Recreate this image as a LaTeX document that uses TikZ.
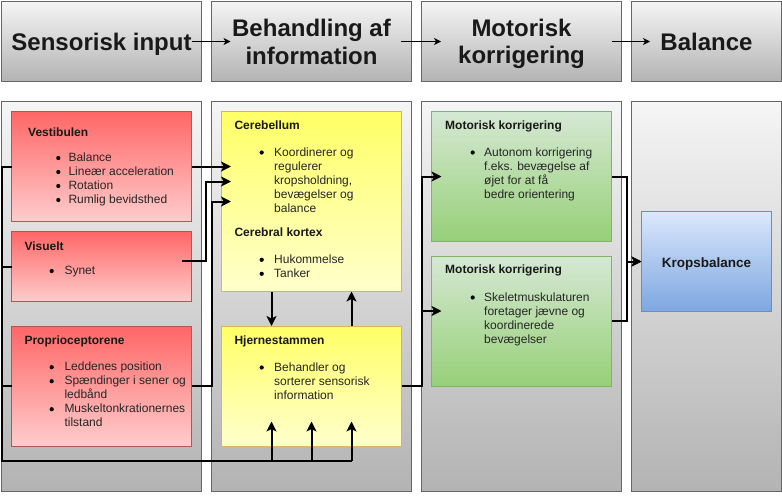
\documentclass[tikz,border=0pt]{standalone}
\usepackage{fontspec}
\setmainfont{Liberation Sans}
\usetikzlibrary{arrows.meta,calc}
\definecolor{cBorder}{HTML}{666666}
\definecolor{gTop}{HTML}{F5F5F5}
\definecolor{gBot}{HTML}{B3B3B3}
\definecolor{rTop}{HTML}{FF6666}
\definecolor{rBot}{HTML}{FFCCCC}
\definecolor{rLine}{HTML}{B85450}
\definecolor{yTop}{HTML}{FFFF66}
\definecolor{yBot}{HTML}{FFFFCC}
\definecolor{yLine}{HTML}{D6B656}
\definecolor{gnTop}{HTML}{D5E8D4}
\definecolor{gnBot}{HTML}{97D077}
\definecolor{gnLine}{HTML}{82B366}
\definecolor{bTop}{HTML}{DAE8FC}
\definecolor{bBot}{HTML}{7EA6E0}
\definecolor{bLine}{HTML}{6C8EBF}
\definecolor{txtItem}{HTML}{262626}
\newcommand\dotat[2]{\fill[black] (#1,#2) circle (2.1);}
\tikzset{
  panel/.style={draw=cBorder, line width=1pt, top color=gTop, bottom color=gBot, inner sep=0pt, outer sep=0pt},
  redbox/.style={draw=rLine, line width=1pt, top color=rTop, bottom color=rBot, inner sep=0pt, outer sep=0pt, minimum width=180pt},
  yelbox/.style={draw=yLine, line width=1pt, top color=yTop, bottom color=yBot, inner sep=0pt, outer sep=0pt, minimum width=180pt},
  grnbox/.style={draw=gnLine, line width=1pt, top color=gnTop, bottom color=gnBot, inner sep=0pt, outer sep=0pt, minimum width=180pt},
  blubox/.style={draw=bLine, line width=1pt, top color=bTop, bottom color=bBot, inner sep=0pt, outer sep=0pt},
  hdrtxt/.style={anchor=base, inner sep=0pt, font=\fontsize{24}{28}\selectfont\bfseries, text=black!90},
  titletxt/.style={anchor=base west, inner sep=0pt, font=\fontsize{12}{14}\selectfont\bfseries, text=black!90},
  itemtxt/.style={anchor=base west, inner sep=0pt, font=\fontsize{12}{14}\selectfont, text=txtItem},
  wire/.style={draw=black, line width=2pt},
  conn/.style={wire, -{Stealth[length=10pt,width=10pt,inset=2.5pt]}},
  harr/.style={draw=black, line width=1pt, -{Stealth[length=7pt,width=7pt,inset=2pt]}}
}
\begin{document}
\begin{tikzpicture}[x=1pt,y=-1pt]
\useasboundingbox (0,0) rectangle (782,501);
% header row
\node[panel, minimum width=200pt, minimum height=80pt] (h1) at (101.5,41.5) {};
\node[panel, minimum width=200pt, minimum height=80pt] (h2) at (311.5,41.5) {};
\node[panel, minimum width=200pt, minimum height=80pt] (h3) at (521.5,41.5) {};
\node[panel, minimum width=150pt, minimum height=80pt] (h4) at (706.5,41.5) {};
\node[hdrtxt] (t1) at (101.5,50.5) {Sensorisk input};
\node[hdrtxt] (t2a) at (311.5,36) {Behandling af};
\node[hdrtxt] (t2b) at (311.5,64) {information};
\node[hdrtxt] (t3a) at (521.5,36) {Motorisk};
\node[hdrtxt] (t3b) at (521.5,63.5) {korrigering};
\node[hdrtxt] (t4) at (706.5,50) {Balance};
\draw[harr] ($(h1.east)+(-10,0)$) -- ($(h2.west)+(19,0)$);
\draw[harr] ($(h2.east)+(-10.5,0)$) -- ($(h3.west)+(19.5,0)$);
\draw[harr] ($(h3.east)+(-10,0)$) -- ($(h4.west)+(18.5,0)$);
% columns
\node[panel, minimum width=200pt, minimum height=390pt] (c1) at (101.5,296.5) {};
\node[panel, minimum width=200pt, minimum height=390pt] (c2) at (311.5,296.5) {};
\node[panel, minimum width=200pt, minimum height=390pt] (c3) at (521.5,296.5) {};
\node[panel, minimum width=150pt, minimum height=390pt] (c4) at (706.5,296.5) {};
% boxes
\node[redbox, minimum height=110pt] (vest) at (101.5,166.5) {};
\node[redbox, minimum height=70pt] (vis) at (101.5,266.5) {};
\node[redbox, minimum height=120pt] (prop) at (101.5,386) {};
\node[yelbox, minimum height=180pt] (cereb) at (311.5,201.5) {};
\node[yelbox, minimum height=120pt] (hjern) at (311.5,386) {};
\node[grnbox, minimum height=130pt] (mot1) at (521.5,176.5) {};
\node[grnbox, minimum height=130pt] (mot2) at (521.5,321) {};
\node[blubox, minimum width=130pt, minimum height=100pt] (kb) at (706.5,261.5) {};
% texts: Vestibulen
\node[titletxt] (v0) at (28,136.5) {Vestibulen};
\dotat{58.3}{158}\node[itemtxt] (v1) at (68.3,161.5) {Balance};
\dotat{58.3}{172}\node[itemtxt] (v2) at (68.3,175.5) {Lineær acceleration};
\dotat{58.3}{186}\node[itemtxt] (v3) at (68.3,189.5) {Rotation};
\dotat{58.3}{200}\node[itemtxt] (v4) at (68.3,203.5) {Rumlig bevidsthed};
% Visuelt
\node[titletxt] (s0) at (24.3,250) {Visuelt};
\dotat{51.7}{271}\node[itemtxt] (s1) at (64.3,274.5) {Synet};
% Proprioceptorene
\node[titletxt] (p0) at (24.3,344) {Proprioceptorene};
\dotat{51.7}{367.2}\node[itemtxt] (p1) at (64.3,370.7) {Leddenes position};
\dotat{51.7}{381.2}\node[itemtxt] (p2) at (64.3,384.7) {Spændinger i sener og};
\node[itemtxt] (p3) at (64.3,398.7) {ledbånd};
\dotat{51.7}{409.2}\node[itemtxt] (p4) at (64.3,412.7) {Muskeltonkrationernes};
\node[itemtxt] (p5) at (64.3,426.7) {tilstand};
% Cerebellum
\node[titletxt] (ce0) at (234.3,129.3) {Cerebellum};
\dotat{261.7}{152.5}\node[itemtxt] (ce1) at (274,156) {Koordinerer og};
\node[itemtxt] (ce2) at (274,170) {regulerer};
\node[itemtxt] (ce3) at (274,184) {kropsholdning,};
\node[itemtxt] (ce4) at (274,198) {bevægelser og};
\node[itemtxt] (ce5) at (274,212) {balance};
\node[titletxt] (ck0) at (234.3,236.7) {Cerebral kortex};
\dotat{261.7}{259.8}\node[itemtxt] (ck1) at (274,263.3) {Hukommelse};
\dotat{261.7}{273.8}\node[itemtxt] (ck2) at (274,277.3) {Tanker};
% Hjernestammen
\node[titletxt] (hj0) at (234.3,344.3) {Hjernestammen};
\dotat{261.7}{367.5}\node[itemtxt] (hj1) at (274,371) {Behandler og};
\node[itemtxt] (hj2) at (274,385) {sorterer sensorisk};
\node[itemtxt] (hj3) at (274,399) {information};
% Motorisk 1
\node[titletxt] (ma0) at (445,129.3) {Motorisk korrigering};
\dotat{472.7}{152.5}\node[itemtxt] (ma1) at (484,156) {Autonom korrigering};
\node[itemtxt] (ma2) at (484,170) {f.eks. bevægelse af};
\node[itemtxt] (ma3) at (484,184) {øjet for at få};
\node[itemtxt] (ma4) at (484,198) {bedre orientering};
% Motorisk 2
\node[titletxt] (mb0) at (445,273.5) {Motorisk korrigering};
\dotat{472.7}{297.5}\node[itemtxt] (mb1) at (484,301) {Skeletmuskulaturen};
\node[itemtxt] (mb2) at (484,315) {foretager jævne og};
\node[itemtxt] (mb3) at (484,329) {koordinerede};
\node[itemtxt] (mb4) at (484,343) {bevægelser};
% Kropsbalance
\node[anchor=base, inner sep=0pt, font=\fontsize{13.5}{16}\selectfont\bfseries, text=black!90] (kbt) at (706.5,267) {Kropsbalance};
% connectors
\coordinate (busBot) at (2,461);
\coordinate (j1) at ($(hjern.south west)+(50,15)$);
\coordinate (j2) at ($(hjern.south west)+(90,15)$);
\coordinate (j3) at ($(hjern.south west)+(130,15)$);
\draw[wire] (vest.west) -| (busBot) -- (j3);
\draw[wire] (vis.west) -- (vis.west -| busBot);
\draw[wire] (prop.west) -- (prop.west -| busBot);
\draw[conn] (j1) -- ($(hjern.south west)+(50,-24.5)$);
\draw[conn] (j2) -- ($(hjern.south west)+(90,-24.5)$);
\draw[conn] (j3) -- ($(hjern.south west)+(130,-24.5)$);
\draw[conn] (vest.east) -- ($(cereb.north west)+(9.5,55)$);
\draw[conn] ($(vis.north east)+(-10,29.5)$) -- ($(vis.north east)+(14.5,29.5)$) |- ($(cereb.north west)+(9.5,70)$);
\draw[conn] (prop.east) -- ++(20.5,0) |- ($(cereb.north west)+(9.5,90)$);
\draw[conn] ($(cereb.south west)+(50,0)$) -- ($(hjern.north west)+(50,0)$);
\draw[conn] ($(hjern.north west)+(130,0)$) -- ($(cereb.south west)+(130,0)$);
\coordinate (split) at ($(hjern.east)+(20,0)$);
\draw[conn] (hjern.east) -- (split) |- ($(mot1.west)+(10,0)$);
\draw[conn] (split) |- ($(mot2.north west)+(10,55)$);
\draw[conn] (mot1.east) -- ++(15,0) |- (kb.west);
\draw[conn] (mot2.east) -- ++(15,0) |- (kb.west);
\end{tikzpicture}
\end{document}
